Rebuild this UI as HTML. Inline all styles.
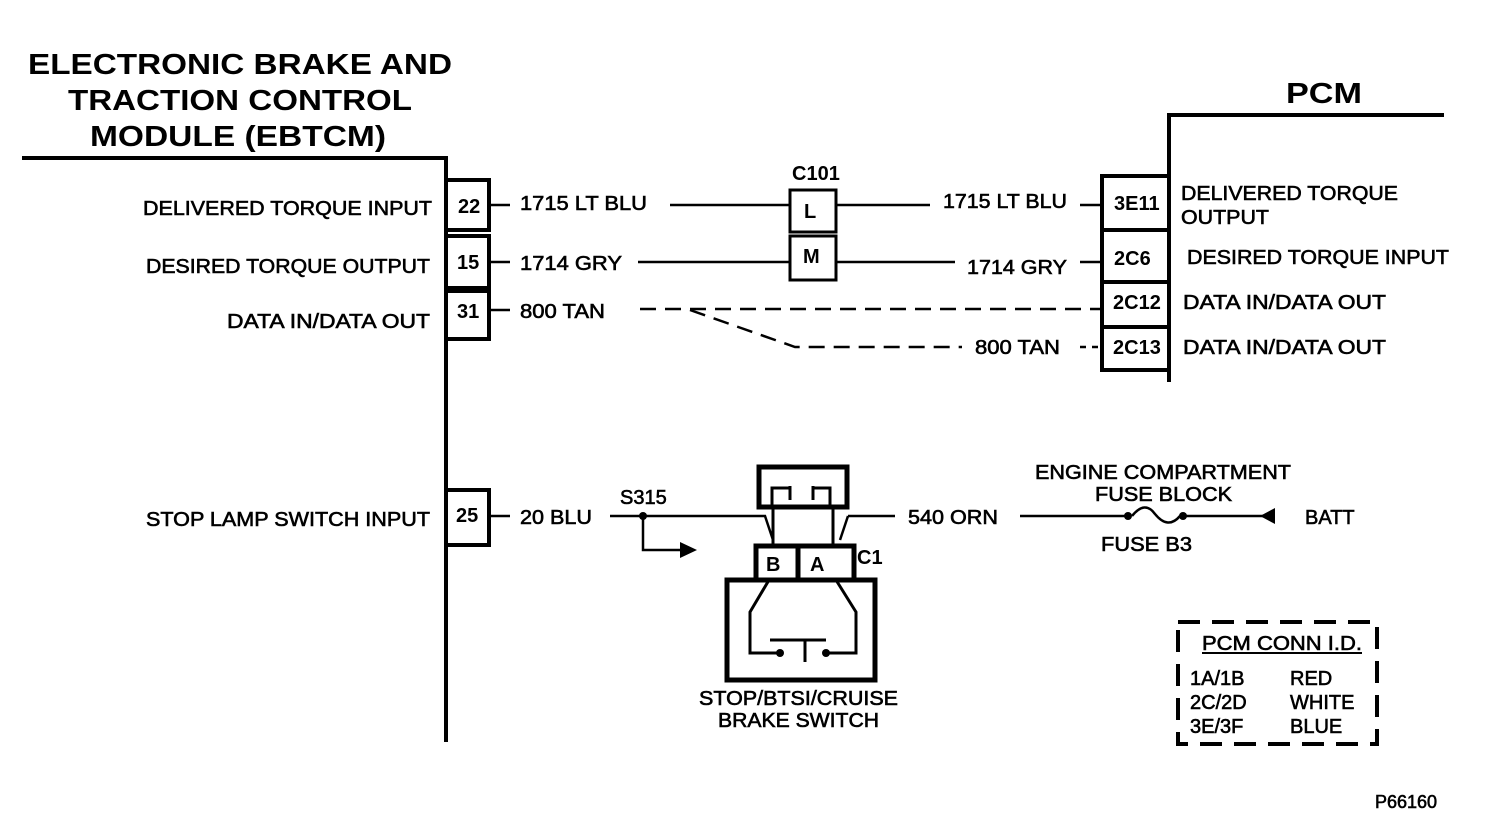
<!DOCTYPE html>
<html><head><style>html,body{margin:0;padding:0;background:#fff}svg{display:block}</style></head><body>
<svg width="1504" height="838" viewBox="0 0 1504 838" xmlns="http://www.w3.org/2000/svg" font-family="Liberation Sans, Arial, sans-serif" fill="#000">
<g font-weight="bold" font-size="29">
<text x="28" y="74" textLength="424" lengthAdjust="spacingAndGlyphs">ELECTRONIC BRAKE AND</text>
<text x="68" y="110" textLength="344" lengthAdjust="spacingAndGlyphs">TRACTION CONTROL</text>
<text x="90" y="146" textLength="296" lengthAdjust="spacingAndGlyphs">MODULE (EBTCM)</text>
<text x="1286" y="103" textLength="76" lengthAdjust="spacingAndGlyphs">PCM</text>
</g>
<g stroke="#000" fill="none" stroke-width="4">
<path d="M22 158 H446 V742"/>
<path d="M1444 115 H1169 V382"/>
<rect x="446" y="180" width="43" height="50"/>
<rect x="446" y="236" width="43" height="52"/>
<rect x="446" y="291" width="43" height="48"/>
<rect x="446" y="490" width="43" height="55"/>
<rect x="1102" y="176" width="67" height="54"/>
<path d="M1102 230 V370 H1169 M1102 282 H1169 M1102 327 H1169"/>
<rect x="790" y="190" width="46" height="42" stroke-width="3"/>
<rect x="790" y="236" width="46" height="44" stroke-width="3"/>
</g>
<g stroke="#000" fill="none" stroke-width="2.5">
<path d="M489 205 H510 M670 205 H790 M836 205 H930 M1080 205 H1102"/>
<path d="M489 262 H510 M638 262 H790 M836 262 H955 M1080 262 H1102"/>
<path d="M489 310 H510"/>
<path d="M640 309 H1102" stroke-dasharray="16 9"/>
<path d="M690 310 L795 347 H962" stroke-dasharray="16 9"/>
<path d="M1080 347 H1102" stroke-dasharray="6 6"/>
<path d="M489 516 H510 M610 516 H765 L773 540 M848 516 H895 M840 540 L848 516"/>
<path d="M643 516 V550 H680"/>
<path d="M1020 516 H1128 M1183 516 H1275"/>
<path d="M1132 516 Q1145 500 1155 514 Q1168 530 1180 516"/>
</g>
<polygon points="680,542 697,550 680,558"/>
<polygon points="1275,508 1260,516 1275,524"/>
<circle cx="643" cy="516" r="4"/><circle cx="1128" cy="516" r="4"/><circle cx="1183" cy="516" r="4"/>
<g stroke="#000" fill="none" stroke-width="5">
<rect x="759" y="467" width="88" height="40"/>
<rect x="756" y="546" width="98" height="34"/>
<rect x="727" y="580" width="148" height="100"/>
<path d="M798 546 V580"/>
</g>
<g stroke="#000" fill="none" stroke-width="3">
<path d="M773 507 V546 M833 507 V546"/>
<path d="M772 505 V488 H790 M790 486 V500 M813 486 V500 M813 488 H830 V505"/>
<path d="M769 580 L750 612 V653 H777 M836 580 L856 612 V653 H828 M770 640 H826 M805 640 V662"/>
</g>
<circle cx="780" cy="653" r="4"/><circle cx="826" cy="653" r="4"/>
<g font-size="20" font-weight="bold">
<text x="766" y="571">B</text><text x="810" y="571">A</text><text x="857" y="564">C1</text>
<text x="804" y="218">L</text><text x="803" y="263">M</text>
<text x="792" y="180">C101</text>
<text x="458" y="213">22</text><text x="457" y="269">15</text><text x="457" y="318">31</text><text x="456" y="522">25</text>
<text x="1114" y="210">3E11</text><text x="1114" y="265">2C6</text><text x="1113" y="309">2C12</text><text x="1113" y="354">2C13</text>
</g>
<g font-size="20" stroke="#000" stroke-width="0.6">
<text x="143" y="215" textLength="289" lengthAdjust="spacingAndGlyphs">DELIVERED TORQUE INPUT</text>
<text x="146" y="273" textLength="284" lengthAdjust="spacingAndGlyphs">DESIRED TORQUE OUTPUT</text>
<text x="227" y="328" textLength="203" lengthAdjust="spacingAndGlyphs">DATA  IN/DATA OUT</text>
<text x="146" y="526" textLength="284" lengthAdjust="spacingAndGlyphs">STOP LAMP SWITCH INPUT</text>
<text x="520" y="210" textLength="127" lengthAdjust="spacingAndGlyphs">1715 LT BLU</text>
<text x="520" y="270" textLength="102" lengthAdjust="spacingAndGlyphs">1714 GRY</text>
<text x="520" y="318" textLength="85" lengthAdjust="spacingAndGlyphs">800 TAN</text>
<text x="520" y="524" textLength="72" lengthAdjust="spacingAndGlyphs">20 BLU</text>
<text x="620" y="504">S315</text>
<text x="943" y="208" textLength="124" lengthAdjust="spacingAndGlyphs">1715 LT BLU</text>
<text x="967" y="274" textLength="100" lengthAdjust="spacingAndGlyphs">1714 GRY</text>
<text x="975" y="354" textLength="85" lengthAdjust="spacingAndGlyphs">800 TAN</text>
<text x="908" y="524" textLength="90" lengthAdjust="spacingAndGlyphs">540 ORN</text>
<text x="1181" y="200" textLength="217" lengthAdjust="spacingAndGlyphs">DELIVERED TORQUE</text>
<text x="1181" y="224" textLength="88" lengthAdjust="spacingAndGlyphs">OUTPUT</text>
<text x="1187" y="264" textLength="262" lengthAdjust="spacingAndGlyphs">DESIRED TORQUE INPUT</text>
<text x="1183" y="309" textLength="203" lengthAdjust="spacingAndGlyphs">DATA  IN/DATA OUT</text>
<text x="1183" y="354" textLength="203" lengthAdjust="spacingAndGlyphs">DATA  IN/DATA OUT</text>
<text x="1035" y="479" textLength="256" lengthAdjust="spacingAndGlyphs">ENGINE COMPARTMENT</text>
<text x="1095" y="501" textLength="137" lengthAdjust="spacingAndGlyphs">FUSE BLOCK</text>
<text x="1101" y="551" textLength="91" lengthAdjust="spacingAndGlyphs">FUSE B3</text>
<text x="1305" y="524">BATT</text>
<text x="699" y="705" textLength="199" lengthAdjust="spacingAndGlyphs">STOP/BTSI/CRUISE</text>
<text x="718" y="727" textLength="161" lengthAdjust="spacingAndGlyphs">BRAKE SWITCH</text>
<text x="1202" y="650" textLength="160" lengthAdjust="spacingAndGlyphs">PCM CONN I.D.</text>
<text x="1190" y="685">1A/1B</text><text x="1290" y="685">RED</text>
<text x="1190" y="709">2C/2D</text><text x="1290" y="709">WHITE</text>
<text x="1190" y="733">3E/3F</text><text x="1290" y="733">BLUE</text>
<text x="1375" y="808" font-size="18">P66160</text>
</g>
<path d="M1202 653 H1362" stroke="#000" stroke-width="2"/>
<rect x="1178" y="622" width="199" height="122" fill="none" stroke="#000" stroke-width="4" stroke-dasharray="22 12"/>
</svg>
</body></html>
